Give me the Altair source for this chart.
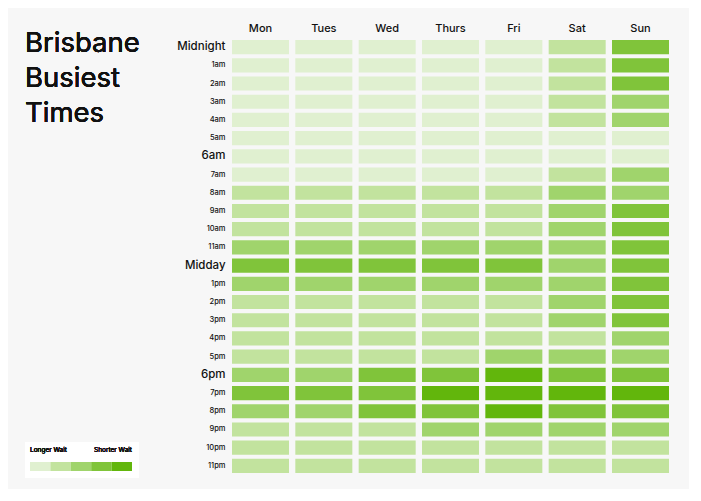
import altair as alt
import pandas as pd

days = ["Mon", "Tues", "Wed", "Thurs", "Fri", "Sat", "Sun"]
hours = ["Midnight", "1am", "2am", "3am", "4am", "5am", "6am", "7am", "8am", "9am",
         "10am", "11am", "Midday", "1pm", "2pm", "3pm", "4pm", "5pm", "6pm", "7pm",
         "8pm", "9pm", "10pm", "11pm"]
major_hours = ["Midnight", "6am", "Midday", "6pm"]

# busyness level (1 = longer wait ... 5 = shorter wait), one row per hour, Mon..Sun
levels = [
    [1, 1, 1, 1, 1, 2, 4],
    [1, 1, 1, 1, 1, 2, 4],
    [1, 1, 1, 1, 1, 2, 4],
    [1, 1, 1, 1, 1, 2, 3],
    [1, 1, 1, 1, 1, 2, 3],
    [1, 1, 1, 1, 1, 1, 1],
    [1, 1, 1, 1, 1, 1, 1],
    [1, 1, 1, 1, 1, 2, 3],
    [2, 2, 2, 2, 2, 3, 3],
    [2, 2, 2, 2, 2, 3, 4],
    [2, 2, 2, 2, 2, 3, 4],
    [3, 3, 3, 3, 3, 3, 4],
    [4, 4, 4, 4, 4, 3, 4],
    [3, 3, 3, 3, 3, 3, 4],
    [2, 2, 2, 2, 2, 3, 4],
    [2, 2, 2, 2, 2, 3, 4],
    [2, 2, 2, 2, 2, 2, 3],
    [2, 2, 2, 2, 3, 3, 3],
    [3, 3, 4, 4, 5, 4, 4],
    [4, 4, 4, 5, 5, 5, 5],
    [3, 3, 4, 4, 5, 4, 4],
    [2, 2, 2, 3, 3, 3, 3],
    [2, 2, 2, 2, 2, 2, 2],
    [2, 2, 2, 2, 2, 2, 2],
]
level_values = [1, 2, 3, 4, 5]
palette = ["#e0f0d0", "#c2e39e", "#a0d46c", "#80c43a", "#62b60c"]
title_lines = ["Brisbane", "Busiest", "Times"]
legend_left = "Longer Wait"
legend_right = "Shorter Wait"

rows = []
for h, row in zip(hours, levels):
    for d, v in zip(days, row):
        rows.append({"day": d, "hour": h, "level": v})
df = pd.DataFrame(rows)
leg_df = pd.DataFrame({"level": level_values})

FONT = "Inter"
color_scale = alt.Scale(domain=level_values, range=palette)
major_test = "indexof(" + str(major_hours) + ", datum.value) >= 0"

heat = alt.Chart(df).mark_rect().encode(
    x=alt.X("day:N", sort=days,
            scale=alt.Scale(paddingInner=0.1, paddingOuter=0),
            axis=alt.Axis(orient="top", title=None, ticks=False, domain=False,
                          labelAngle=0, labelPadding=7, labelFontSize=11,
                          labelFont=FONT, labelFontWeight=500, labelColor="#111111")),
    y=alt.Y("hour:N", sort=hours,
            scale=alt.Scale(paddingInner=0.22, paddingOuter=0),
            axis=alt.Axis(title=None, ticks=False, domain=False, labelPadding=7,
                          labelFont=FONT, labelColor="#111111",
                          labelFontWeight=500,
                          labelFontSize={"condition": {"test": major_test, "value": 11.5},
                                         "value": 7.5})),
    color=alt.Color("level:O", scale=color_scale, legend=None),
)

legend_box = alt.Chart(leg_df).mark_rect(color="white").encode(
    x=alt.value(-207), x2=alt.value(-93), y=alt.value(402), y2=alt.value(438)
)

legend_swatches = alt.Chart(leg_df).mark_rect().encode(
    x=alt.X("level:O", scale=alt.Scale(range=[-202, -100], paddingInner=0, paddingOuter=0),
            axis=None),
    y=alt.value(422), y2=alt.value(431),
    color=alt.Color("level:O", scale=color_scale, legend=None),
)

legend_text_l = alt.Chart(leg_df).mark_text(
    align="left", baseline="alphabetic", font=FONT, fontSize=6.5, fontWeight=400, color="#111111"
).encode(x=alt.value(-202), y=alt.value(412), text=alt.value(legend_left))

legend_text_r = alt.Chart(leg_df).mark_text(
    align="right", baseline="alphabetic", font=FONT, fontSize=6.5, fontWeight=400, color="#111111"
).encode(x=alt.value(-100), y=alt.value(412), text=alt.value(legend_right))

title = alt.Chart(leg_df).mark_text(
    align="left", baseline="alphabetic", font=FONT, fontSize=27.5, fontWeight=400,
    color="#111111", lineHeight=35
).encode(x=alt.value(-207), y=alt.value(12), text=alt.value(title_lines))

chart = alt.layer(
    heat, legend_box, legend_swatches, legend_text_l, legend_text_r, title
).resolve_scale(x="independent").properties(
    width=437, height=433,
    autosize=alt.AutoSizeParams(type="none"),
    padding={"left": 224, "top": 32, "right": 20, "bottom": 16},
).configure(background="#f7f7f7").configure_view(stroke=None)

chart.save("out.html", embed_options={"renderer": "svg", "actions": False})
